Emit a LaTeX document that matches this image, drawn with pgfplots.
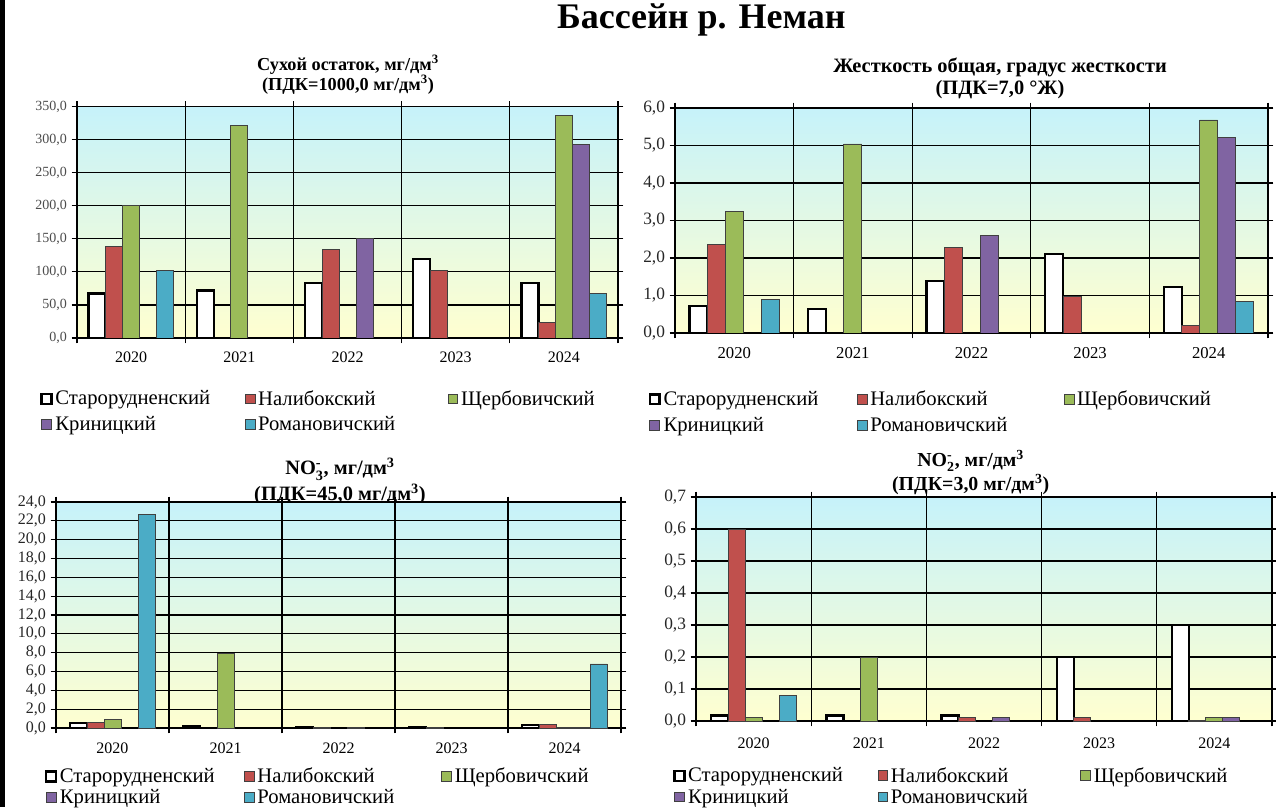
\documentclass[border=0pt]{standalone}
\usepackage{fontspec}
\setmainfont{Liberation Serif}
\usepackage{amsmath}
\usepackage{pgfplots}
\pgfplotsset{compat=1.18}

\definecolor{cNal}{RGB}{192,80,77}
\definecolor{cShch}{RGB}{155,187,89}
\definecolor{cKrin}{RGB}{128,100,162}
\definecolor{cRom}{RGB}{75,172,198}
\definecolor{bgTop}{RGB}{198,242,250}
\definecolor{bgBot}{RGB}{255,255,208}

\pgfplotsset{
  sq legend/.style={legend image code/.code={\draw[##1] (0pt,-3.7pt) rectangle (7.4pt,3.7pt);}},
  sStar/.style={fill=white, draw=black, line width=1.8pt, sq legend},
  sNal/.style={fill=cNal, draw=black!75, line width=0.7pt, sq legend},
  sShch/.style={fill=cShch, draw=black!75, line width=0.7pt, sq legend},
  sKrin/.style={fill=cKrin, draw=black!75, line width=0.7pt, sq legend},
  sRom/.style={fill=cRom, draw=black!75, line width=0.7pt, sq legend},
  neman/.style={
    scale only axis,
    anchor=south west,
    ybar=0pt,
    bar width=12.75pt,
    xmin=-0.5, xmax=4.5,
    ymin=0,
    xtick={0,1,2,3,4},
    xticklabels={2020,2021,2022,2023,2024},
    minor xtick={-0.5,0.5,1.5,2.5,3.5,4.5},
    major x tick style={draw=none},
    minor x tick style={black, line width=0.9pt},
    ytick style={black, line width=0.9pt},
    tick align=outside,
    major tick length=4pt,
    minor tick length=4pt,
    xminorgrids=true,
    ymajorgrids=true,
    major grid style={black, line width=0.9pt},
    minor grid style={black, line width=0.9pt},
    axis line style={black, line width=0.9pt},
    axis background/.style={top color=bgTop, bottom color=bgBot},
    yticklabel style={/pgf/number format/fixed, /pgf/number format/fixed zerofill,
      /pgf/number format/precision=1, /pgf/number format/use comma,
      /pgf/number format/assume math mode=true},
    legend columns=3,
    legend cell align=left,
    legend style={draw=none, fill=none, inner sep=0pt, anchor=north west,
      font=\fontsize{15.5}{18}\selectfont,
      nodes={inner xsep=2pt, inner ysep=1pt}},
  },
}

\begin{document}
\begin{tikzpicture}
\path[use as bounding box] (0pt,0pt) rectangle (957pt,605.25pt);
\fill[black] (0pt,0pt) rectangle (3.6pt,605.25pt);

\node[font=\bfseries\fontsize{27}{32}\selectfont] at (526pt,590pt) {Бассейн р. Неман};

% ---------- Сухой остаток ----------
\node[align=center, font=\bfseries\fontsize{13.7}{15}\selectfont] at (261pt,549.5pt)
  {Сухой остаток, мг/дм\textsuperscript{3}\\(ПДК=1000,0 мг/дм\textsuperscript{3})};
\begin{axis}[neman,
  at={(57.75pt,351.75pt)}, width=405.75pt, height=173.6pt,
  ymax=350, ytick={0,50,...,350},
  yticklabel style={font=\fontsize{10.5}{12}\selectfont, text=black!70},
  xticklabel style={font=\fontsize{12}{14}\selectfont, yshift=-3pt},
  legend style={at={(-0.068,-0.22)}, row sep=5pt, nodes={text width=140pt}},
]
\addplot[sStar] coordinates {(0,67) (1,72) (2,83) (3,119) (4,83)};
\addplot[sNal]  coordinates {(0,139) (2,134) (3,102) (4,23)};
\addplot[sShch] coordinates {(0,201) (1,321) (4,337)};
\addplot[sKrin] coordinates {(2,151) (4,292)};
\addplot[sRom]  coordinates {(0,102) (4,68)};
\legend{Старорудненский,Налибокский,Щербовичский,Криницкий,Романовичский}
\end{axis}

% ---------- Жесткость общая ----------
\node[align=center, font=\bfseries\fontsize{15.3}{16}\selectfont] at (750pt,546.5pt)
  {Жесткость общая, градус жесткости\\(ПДК=7,0 °Ж)};
\begin{axis}[neman,
  at={(506.25pt,355.5pt)}, width=444.75pt, height=168.75pt,
  bar width=13.5pt,
  ymax=6, ytick={0,1,...,6},
  yticklabel style={font=\fontsize{13}{15}\selectfont, text=black!85},
  xticklabel style={font=\fontsize{12.5}{14}\selectfont, yshift=-3pt},
  legend style={at={(-0.045,-0.25)}, row sep=5pt, nodes={text width=143pt}},
]
\addplot[sStar] coordinates {(0,0.72) (1,0.64) (2,1.38) (3,2.11) (4,1.23)};
\addplot[sNal]  coordinates {(0,2.37) (2,2.27) (3,0.98) (4,0.2)};
\addplot[sShch] coordinates {(0,3.24) (1,5.04) (4,5.68)};
\addplot[sKrin] coordinates {(2,2.59) (4,5.22)};
\addplot[sRom]  coordinates {(0,0.89) (4,0.83)};
\legend{Старорудненский,Налибокский,Щербовичский,Криницкий,Романовичский}
\end{axis}

% ---------- Нитраты ----------
\node[align=center, font=\bfseries\fontsize{15.3}{16}\selectfont] at (255pt,244pt)
  {NO$_{\text{3}}^{\text{-}}$, мг/дм\textsuperscript{3}\\[2pt](ПДК=45,0 мг/дм\textsuperscript{3})};
\begin{axis}[neman,
  at={(42pt,59.25pt)}, width=423.75pt, height=169.5pt,
  ymax=24, ytick={0,2,...,24},
  yticklabel style={font=\fontsize{12}{14}\selectfont, text=black!85},
  xticklabel style={font=\fontsize{12}{14}\selectfont, yshift=-3.5pt},
  legend style={at={(-0.02,-0.17)}, row sep=1.5pt, nodes={text width=136pt}},
]
\addplot[sStar] coordinates {(0,0.5) (1,0.15) (2,0.1) (3,0.1) (4,0.35)};
\addplot[sNal]  coordinates {(0,0.6) (2,0.1) (3,0.1) (4,0.35)};
\addplot[sShch] coordinates {(0,0.9) (1,7.9) (4,0.1)};
\addplot[sKrin] coordinates {(2,0.1) (4,0.1)};
\addplot[sRom]  coordinates {(0,22.7) (4,6.8)};
\legend{Старорудненский,Налибокский,Щербовичский,Криницкий,Романовичский}
\end{axis}

% ---------- Нитриты ----------
\node[align=center, font=\bfseries\fontsize{14.9}{16}\selectfont] at (728pt,251pt)
  {NO$_{\text{2}}^{\text{-}}$, мг/дм\textsuperscript{3}\\[1pt](ПДК=3,0 мг/дм\textsuperscript{3})};
\begin{axis}[neman,
  at={(522pt,64.5pt)}, width=432pt, height=168pt,
  ymax=0.7, ytick={0,0.1,...,0.7},
  yticklabel style={font=\fontsize{13}{15}\selectfont, text=black!85},
  xticklabel style={font=\fontsize{12}{14}\selectfont, yshift=-5pt},
  legend style={at={(-0.04,-0.2)}, row sep=1.5pt, nodes={text width=140pt}},
]
\addplot[sStar] coordinates {(0,0.017) (1,0.017) (2,0.017) (3,0.2) (4,0.3)};
\addplot[sNal]  coordinates {(0,0.6) (2,0.01) (3,0.01) (4,0.002)};
\addplot[sShch] coordinates {(0,0.01) (1,0.2) (4,0.01)};
\addplot[sKrin] coordinates {(2,0.01) (4,0.01)};
\addplot[sRom]  coordinates {(0,0.08)};
\legend{Старорудненский,Налибокский,Щербовичский,Криницкий,Романовичский}
\end{axis}
\end{tikzpicture}
\end{document}
